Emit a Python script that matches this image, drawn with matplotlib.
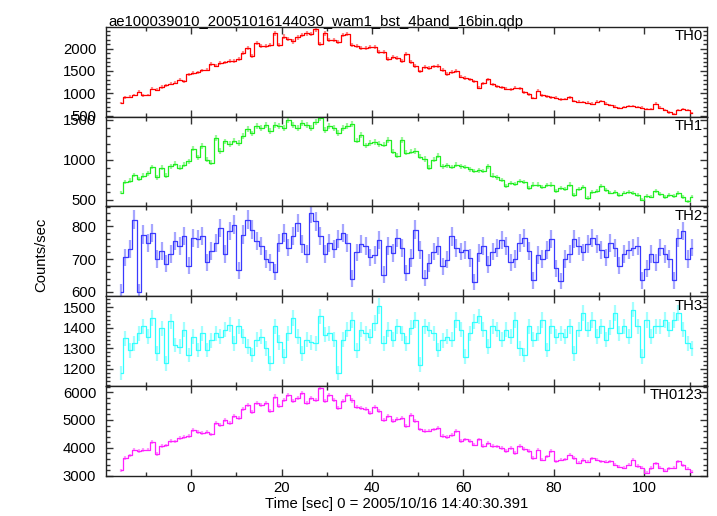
import numpy as np
import matplotlib
matplotlib.use('Agg')
import matplotlib.pyplot as plt
from matplotlib.ticker import MultipleLocator

plt.rcParams['font.family'] = ['Liberation Sans', 'DejaVu Sans']
plt.rcParams['font.size'] = 10.7

'''
WAM burst light curve, 4 energy bands + sum (1 s bins read off the qdp plot)
'''

#bin centres [sec]
time = np.arange(-15.5, 111.0, 1.0)

#count rates per band [counts/sec]
th0 = [780, 910, 925, 960, 1030, 950, 960, 1100, 1080, 1140,
       1180, 1210, 1240, 1300, 1270, 1420, 1450, 1470, 1510, 1530,
       1660, 1620, 1680, 1690, 1720, 1730, 1760, 1900, 2010, 1830,
       2130, 2050, 2060, 2080, 2340, 2090, 2270, 2220, 2160, 2250,
       2300, 2340, 2320, 2430, 2110, 2340, 2200, 2190, 2140, 2300,
       2320, 2090, 2060, 2010, 2020, 2040, 2030, 1920, 1930, 1760,
       1820, 1790, 1730, 1880, 1700, 1610, 1490, 1590, 1570, 1600,
       1610, 1520, 1430, 1480, 1500, 1370, 1340, 1310, 1270, 1120,
       1220, 1310, 1200, 1160, 1130, 1100, 1090, 1120, 1110, 1020,
       980, 890, 1060, 950, 930, 910, 900, 860, 870, 910,
       830, 810, 800, 790, 770, 810, 830, 770, 740, 700,
       670, 690, 710, 720, 690, 680, 650, 640, 770, 680,
       620, 570, 540, 630, 640, 620, 560]

th1 = [590, 720, 740, 810, 760, 800, 830, 910, 780, 900,
       800, 920, 950, 900, 940, 980, 1140, 1030, 1170, 1000,
       960, 1270, 1110, 1230, 1200, 1240, 1210, 1300, 1380, 1330,
       1420, 1400, 1440, 1360, 1440, 1420, 1400, 1500, 1430, 1400,
       1460, 1430, 1400, 1470, 1520, 1370, 1420, 1400, 1340, 1400,
       1420, 1450, 1240, 1310, 1180, 1210, 1220, 1200, 1190, 1250,
       1100, 1050, 1250, 1090, 1100, 1110, 1040, 1010, 900, 1000,
       1050, 920, 930, 910, 940, 920, 910, 880, 860, 870,
       860, 920, 800, 780, 750, 670, 710, 700, 730, 720,
       650, 690, 690, 660, 680, 690, 610, 650, 640, 690,
       560, 630, 660, 520, 600, 610, 670, 620, 590, 600,
       560, 590, 600, 580, 560, 500, 550, 540, 610, 570,
       530, 560, 550, 580, 530, 480, 540]

th2 = [600, 705, 730, 820, 600, 775, 750, 780, 700, 725,
       685, 715, 755, 740, 770, 680, 765, 760, 770, 690,
       725, 750, 795, 715, 785, 805, 665, 775, 820, 790,
       755, 740, 700, 690, 660, 750, 780, 735, 770, 810,
       745, 715, 840, 815, 770, 715, 750, 730, 760, 780,
       750, 640, 720, 745, 740, 705, 713, 759, 652, 739,
       718, 764, 734, 657, 703, 790, 728, 642, 688, 723,
       739, 678, 698, 769, 734, 723, 728, 703, 630, 718,
       739, 683, 723, 734, 759, 739, 690, 700, 750, 765,
       725, 635, 713, 700, 728, 760, 672, 632, 700, 715,
       760, 740, 720, 745, 765, 745, 728, 705, 749, 734,
       680, 715, 728, 735, 740, 635, 670, 715, 690, 735,
       715, 700, 635, 765, 785, 700, 735]

th3 = [1180, 1350, 1290, 1325, 1374, 1407, 1357, 1448, 1275, 1398,
       1226, 1431, 1316, 1308, 1390, 1267, 1357, 1292, 1374, 1292,
       1340, 1374, 1357, 1390, 1415, 1325, 1407, 1357, 1308, 1267,
       1341, 1357, 1300, 1226, 1407, 1330, 1259, 1374, 1448, 1357,
       1275, 1341, 1330, 1325, 1456, 1366, 1374, 1341, 1177, 1341,
       1390, 1439, 1290, 1390, 1374, 1357, 1423, 1505, 1325, 1390,
       1341, 1407, 1374, 1325, 1400, 1439, 1220, 1407, 1390, 1374,
       1292, 1340, 1357, 1341, 1439, 1390, 1259, 1374, 1430, 1456,
       1390, 1308, 1407, 1390, 1341, 1390, 1357, 1439, 1300, 1267,
       1407, 1341, 1374, 1439, 1292, 1407, 1357, 1374, 1357, 1407,
       1275, 1390, 1472, 1390, 1439, 1357, 1407, 1341, 1400, 1472,
       1374, 1407, 1357, 1489, 1407, 1259, 1439, 1357, 1407, 1407,
       1439, 1390, 1439, 1472, 1390, 1325, 1300]

th0123 = [3200, 3640, 3730, 3940, 3880, 3920, 3940, 4200, 3780, 4060,
          4090, 4240, 4230, 4350, 4380, 4420, 4650, 4560, 4540, 4580,
          4480, 4890, 4830, 5010, 4900, 5130, 5070, 5400, 5550, 5280,
          5600, 5550, 5600, 5310, 5840, 5490, 5730, 5900, 5670, 5800,
          5960, 5610, 5790, 5730, 6140, 5670, 5900, 5730, 5430, 5670,
          5900, 5700, 5470, 5420, 5390, 5250, 5460, 5310, 5010, 5130,
          4950, 5020, 5070, 4770, 5190, 4950, 4660, 4600, 4620, 4660,
          4710, 4420, 4390, 4450, 4600, 4240, 4300, 4250, 4120, 4300,
          4060, 4180, 4060, 4050, 4000, 3880, 4000, 3820, 4060, 3950,
          3880, 3640, 3940, 3580, 3700, 3880, 3520, 3580, 3590, 3760,
          3640, 3470, 3560, 3500, 3620, 3580, 3520, 3500, 3520, 3400,
          3330, 3290, 3400, 3580, 3350, 3290, 3110, 3280, 3440, 3290,
          3180, 3260, 3290, 3520, 3380, 3250, 3150]

names = ['TH0', 'TH1', 'TH2', 'TH3', 'TH0123']
rates = [th0, th1, th2, th3, th0123]
colors = ['#ff0000', '#22ee22', '#3a3aff', '#33ffff', '#ff22ff']
#y range, major and minor tick step of each panel
ylims = [(478, 2490), (416, 1541), (586, 861), (1115, 1554), (2990, 6215)]
ysteps = [(500, 100), (500, 100), (100, 20), (100, 20), (1000, 200)]

W, H = 717, 516
fig = plt.figure(figsize=(W / 100, H / 100), dpi=100)
fig.subplots_adjust(left=106 / W, right=707 / W, top=1 - 26.7 / H,
                    bottom=1 - 476 / H, hspace=0)
axes = fig.subplots(5, 1, sharex=True)

for ax, name, rate, color, ylim, (major, minor) in zip(axes, names, rates, colors, ylims, ysteps):
    rate = np.asarray(rate, dtype=float)
    #poisson error for 1 s bins
    err = np.sqrt(rate)
    ax.errorbar(time, rate, yerr=err, fmt='none', ecolor=color,
                elinewidth=1.6, alpha=0.45)
    ax.step(time, rate, where='mid', color=color, lw=0.9)
    ax.set_ylim(*ylim)
    ax.yaxis.set_major_locator(MultipleLocator(major))
    ax.yaxis.set_minor_locator(MultipleLocator(minor))
    ax.xaxis.set_major_locator(MultipleLocator(20))
    ax.xaxis.set_minor_locator(MultipleLocator(10))
    ax.tick_params(which='both', direction='in', top=True, right=True,
                   width=1.0, color='#333333')
    ax.tick_params(which='major', length=4.8, pad=7)
    ax.tick_params(which='minor', length=2.8)
    ax.tick_params(axis='x', which='major', pad=3.5)
    for s in ax.spines.values():
        s.set_linewidth(1.0)
        s.set_color('#222222')
    ax.text(1 - 4 / 601, 0.975, name, transform=ax.transAxes,
            ha='right', va='top')

axes[-1].set_xlim(-18.75, 113.8)

fig.text(108 / W, 1 - 26 / H, 'ae100039010_20051016144030_wam1_bst_4band_16bin.qdp',
         ha='left', va='baseline')
fig.text(41 / W, 1 - 255 / H, 'Counts/sec', rotation=90, ha='center', va='center')
fig.text(397 / W, 1 - 508 / H, 'Time [sec] 0 = 2005/10/16 14:40:30.391',
         ha='center', va='baseline')

fig.savefig('out.png', dpi=100)
